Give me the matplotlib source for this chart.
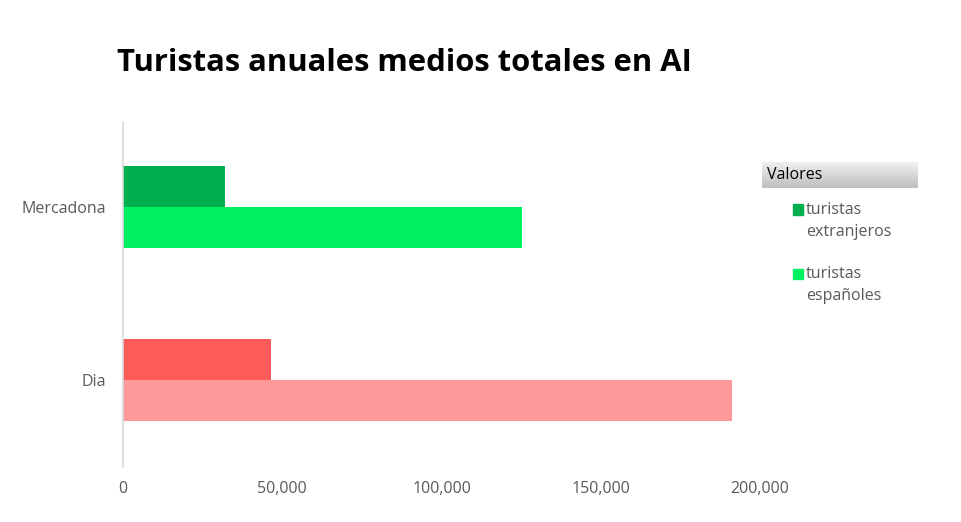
import numpy as np
import matplotlib.pyplot as plt
from matplotlib.patches import Rectangle
from matplotlib.colors import LinearSegmentedColormap

plt.rcParams['font.family'] = ['Open Sans', 'DejaVu Sans']

categories = ['Dia', 'Mercadona']
extranjeros = [46500, 32000]
espanoles = [191200, 125200]
colors_ext = ['#FF5A5A', '#00B050']
colors_esp = ['#FF9999', '#00F060']
series_names = ['turistas\nextranjeros', 'turistas\nespañoles']
legend_colors = ['#00B050', '#00F060']
xticks = [0, 50000, 100000, 150000, 200000]

fig = plt.figure(figsize=(9.62, 5.22), dpi=100)
ax = fig.add_axes([123 / 962, 1 - 467 / 522, (760 - 123) / 962, (467 - 122) / 522])

y = np.arange(len(categories))
h = 0.237
ax.barh(y + h / 2, extranjeros, height=h, color=colors_ext)
ax.barh(y - h / 2, espanoles, height=h, color=colors_esp)

ax.set_xlim(0, 200000)
ax.set_ylim(-0.5, 1.49)
ax.set_yticks(y)
ax.set_yticklabels(categories)
ax.set_xticks(xticks)
ax.set_xticklabels([f'{v:,}' for v in xticks])
ax.tick_params(length=0, labelsize=11.5, colors='#595959')
ax.tick_params(axis='x', pad=10)
ax.tick_params(axis='y', pad=12)
for s in ['top', 'right', 'bottom']:
    ax.spines[s].set_visible(False)
ax.spines['left'].set_color('#D9D9D9')
ax.spines['left'].set_linewidth(1.2)

fig.text(117 / 962, 1 - 63 / 522, 'Turistas anuales medios totales en AI',
         fontsize=22.3, fontweight='bold', va='center', ha='left', color='black')

# legend header with gradient
hax = fig.add_axes([762 / 962, 1 - 188 / 522, 156 / 962, 26 / 522])
gcmap = LinearSegmentedColormap.from_list('hdr', ['#BEBEBE', '#F0F0F0'])
grad = np.linspace(1.0, 0.0, 100).reshape(-1, 1)
hax.imshow(grad, aspect='auto', cmap=gcmap, extent=[0, 1, 0, 1])
hax.set_axis_off()
hax.text(0.03, 0.5, 'Valores', va='center', ha='left', fontsize=11.5, color='black')

for i, (name, c) in enumerate(zip(series_names, legend_colors)):
    sq = 209.5 + i * 64
    fig.patches.append(Rectangle((793 / 962, 1 - (sq + 5) / 522), 10 / 962, 10 / 522,
                                 transform=fig.transFigure, color=c))
    fig.text(806 / 962, 1 - (sq + 12) / 522, name, fontsize=11.5, color='#595959',
             va='center', ha='left', linespacing=1.5)

fig.savefig('out.png', dpi=100)
